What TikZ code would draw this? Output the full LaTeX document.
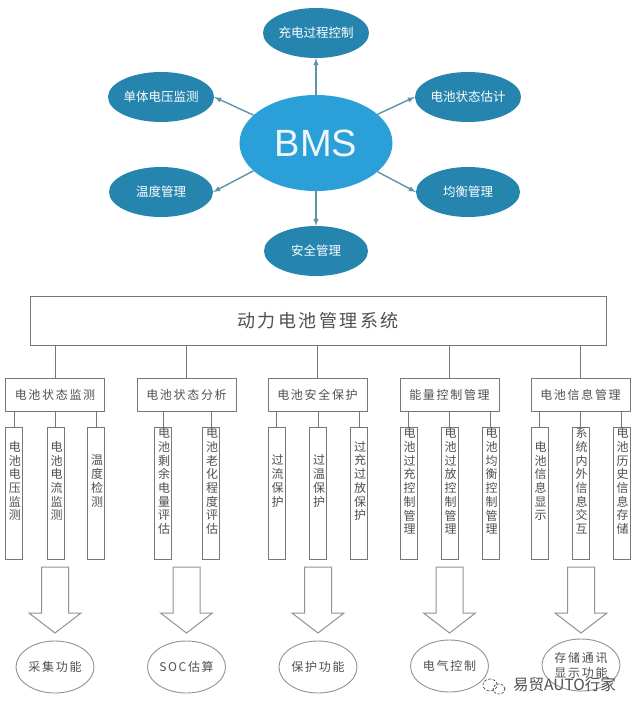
\documentclass[tikz,border=0pt]{standalone}
\usepackage{fontspec}
\setmainfont{Liberation Serif}
\newfontfamily\cjk{Noto Sans CJK SC}
\newfontfamily\cjkwide[LetterSpace=14]{Noto Sans CJK SC}
\newfontfamily\bmsfont{Liberation Sans}
\usetikzlibrary{shapes.geometric}
\definecolor{bmsblue}{HTML}{2BA0D8}
\definecolor{subblue}{HTML}{2585AE}
\definecolor{arrowblue}{HTML}{5F93AB}
\definecolor{boxgrey}{HTML}{777777}
\definecolor{textgrey}{HTML}{505050}
\tikzset{
  func/.style={ellipse,fill=subblue,text=white,minimum width=104pt,minimum height=50pt,inner sep=0pt,font=\cjk\fontsize{12.5}{14}\selectfont},
  flow/.style={draw=arrowblue,line width=1.4pt,-latex},
  sysbox/.style={draw=boxgrey,line width=1pt,minimum width=576pt,minimum height=49pt,inner sep=0pt,text=textgrey,font=\cjkwide\fontsize{18}{20}\selectfont},
  groupbox/.style={draw=boxgrey,line width=1pt,minimum width=99pt,minimum height=33pt,inner sep=0pt,text=textgrey,font=\cjkwide\fontsize{12}{14}\selectfont},
  leafbox/.style={draw=boxgrey,line width=1pt,minimum width=17pt,minimum height=132pt,inner sep=0pt},
  leaftext/.style={align=center,inner sep=0pt,text=textgrey,font=\cjk\fontsize{12}{13.7}\selectfont},
  link/.style={draw=boxgrey,line width=1pt},
  bigarrow/.style={draw=boxgrey!80,line width=1pt,fill=white},
  result/.style={ellipse,draw=boxgrey!80,line width=.9pt,minimum width=78pt,minimum height=52pt,inner sep=0pt,align=center,text=textgrey,font=\cjkwide\fontsize{12}{15}\selectfont}
}
\begin{document}
\begin{tikzpicture}[x=1pt,y=-1pt]
\useasboundingbox (0,0) rectangle (640,713);
\fill[white] (0,0) rectangle (640,713);
% star of functions round the centre
\node[ellipse,fill=bmsblue,text=white!92!bmsblue,minimum width=153pt,minimum height=96pt,inner sep=0pt,font=\bmsfont\fontsize{38}{40}\selectfont] (bms) at (316,143) {BMS};
\node[func] (charge) at (316,33) {充电过程控制};
\node[func] (volt) at (161,97) {单体电压监测};
\node[func] (soc) at (468,97) {电池状态估计};
\node[func] (temp) at (161,192) {温度管理};
\node[func] (bal) at (468,192) {均衡管理};
\node[func] (safe) at (316,251) {安全管理};
\draw[flow] (bms.north) -- (charge.south);
\draw[flow] (bms.156) -- (volt.east);
\draw[flow] (bms.25) -- (soc.west);
\draw[flow] (bms.204) -- (temp.east);
\draw[flow] (bms.335) -- (bal.west);
\draw[flow] (bms.south) -- (safe.north);
% system box and its five groups
\node[sysbox] (sys) at (318,320.5) {动力电池管理系统};
\foreach \nm/\x/\txt in {mon/55/电池状态监测,ana/186.5/电池状态分析,pro/317.5/电池安全保护,eng/449.5/能量控制管理,inf/580.5/电池信息管理}{
  \node[groupbox] (\nm) at (\x,394.5) {\txt};
  \draw[link] (\nm.north) -- (\nm.north |- sys.south);
}
% narrow boxes, text set one character per line
\foreach \up/\nm/\x/\txt in {
  mon/a/14/{电\\池\\电\\压\\监\\测},
  mon/b/55.5/{电\\池\\电\\流\\监\\测},
  mon/c/96/{温\\度\\检\\测},
  ana/d/163/{电\\池\\剩\\余\\电\\量\\评\\估},
  ana/e/211/{电\\池\\老\\化\\程\\度\\评\\估},
  pro/f/276.5/{过\\流\\保\\护},
  pro/g/318/{过\\温\\保\\护},
  pro/h/359/{过\\充\\过\\放\\保\\护},
  eng/i/408.5/{电\\池\\过\\充\\控\\制\\管\\理},
  eng/j/449.5/{电\\池\\过\\放\\控\\制\\管\\理},
  eng/k/490.5/{电\\池\\均\\衡\\控\\制\\管\\理},
  inf/l/539.5/{电\\池\\信\\息\\显\\示},
  inf/m/580.5/{系\\统\\内\\外\\信\\息\\交\\互},
  inf/n/621.5/{电\\池\\历\\史\\信\\息\\存\\储}}{
  \node[leafbox] (\nm) at (\x,493) {};
  \node[leaftext] (\nm txt) at ([xshift=1pt,yshift=12pt]\nm.center) {\txt};
  \draw[link] (\nm.north) -- (\nm.north |- \up.south);
}
% hollow arrows down to the results
\foreach \x in {55,186.5,318,449.5,581}{
  \draw[bigarrow] (\x-13.5,567) -- (\x+13.5,567) -- (\x+13.5,613) -- (\x+26,613) -- (\x,633) -- (\x-26,613) -- (\x-13.5,613) -- cycle;
}
\node[result] (collect) at (55,667) {采集功能};
\node[result] (est) at (186.5,667) {SOC估算};
\node[result] (prot) at (318,667) {保护功能};
\node[result] (elec) at (449.5,666) {电气控制};
\node[result] (store) at (581,665) {存储通讯\\显示功能};
% mark in the lower corner
\draw[white,line width=2.2pt] (490,685) ellipse (7pt and 6pt);
\draw[white,line width=2.2pt] (499,689) ellipse (6pt and 5pt);
\draw[textgrey,line width=.7pt,dash pattern=on 3pt off 1.5pt] (490,685) ellipse (7pt and 6pt);
\draw[textgrey,line width=.7pt,dash pattern=on 2.5pt off 1.5pt] (499,689) ellipse (6pt and 5pt);
\node[inner sep=0pt,anchor=west,text=textgrey,font=\cjk\fontsize{15.5}{17}\selectfont] (mark) at (513,685) {易贸AUTO行家};
\end{tikzpicture}
\end{document}
